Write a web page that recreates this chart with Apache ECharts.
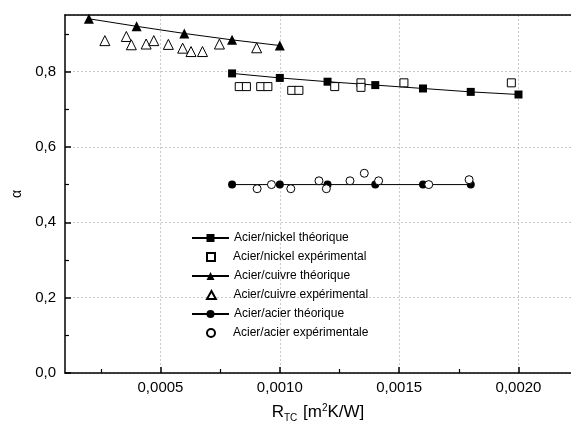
<!DOCTYPE html>
<html><head><meta charset="utf-8">
<script src="https://cdn.jsdelivr.net/npm/echarts@6/dist/echarts.min.js"></script>
<style>html,body{margin:0;padding:0;background:#fff}#c{width:571px;height:423px}</style>
</head><body><div id="c"></div>
<script>
// ---- data ----
const nickelTheoX = [0.0008, 0.0010, 0.0012, 0.0014, 0.0016, 0.0018, 0.0020];
const nickelTheoY = [0.795, 0.783, 0.773, 0.764, 0.755, 0.746, 0.739];
const nickelExpX = [0.00083, 0.00086, 0.00092, 0.00095, 0.00105, 0.00108, 0.00123, 0.00134, 0.00134, 0.00152, 0.00197];
const nickelExpY = [0.760, 0.760, 0.760, 0.760, 0.750, 0.750, 0.760, 0.770, 0.758, 0.770, 0.770];
const cuivreTheoX = [0.0002, 0.0004, 0.0006, 0.0008, 0.0010];
const cuivreTheoY = [0.940, 0.920, 0.901, 0.884, 0.869];
const cuivreExpX = [0.000267, 0.000357, 0.000378, 0.00044, 0.000472, 0.000533, 0.000593, 0.000628, 0.000676, 0.000747, 0.000903];
const cuivreExpY = [0.882, 0.893, 0.871, 0.873, 0.882, 0.872, 0.862, 0.853, 0.853, 0.873, 0.863];
const acierTheoX = [0.0008, 0.0010, 0.0012, 0.0014, 0.0016, 0.0018];
const acierTheoY = [0.5, 0.5, 0.5, 0.5, 0.5, 0.5];
const acierExpX = [0.000905, 0.000965, 0.001046, 0.001164, 0.001195, 0.001294, 0.001354, 0.001414, 0.001624, 0.001793];
const acierExpY = [0.489, 0.500, 0.489, 0.510, 0.489, 0.510, 0.530, 0.510, 0.500, 0.513];
const seriesNames = ['Acier/nickel théorique', 'Acier/nickel expérimental', 'Acier/cuivre théorique',
  'Acier/cuivre expérimental', 'Acier/acier théorique', 'Acier/acier expérimentale'];
const xMinorTicks = [0.00025, 0.00075, 0.00125, 0.00175];
const yMinorTicks = [0.1, 0.3, 0.5, 0.7, 0.9];

// ---- chart ----
const FONT = 'Liberation Sans, Arial, sans-serif';
const zip = (xs, ys) => xs.map((x, i) => [x, ys[i]]);
const X_MIN = 0.0001, X_MAX = 0.00222, Y_MIN = 0, Y_MAX = 0.95;
const gridPos = {left: 65, top: 15, right: 0, bottom: 50, outerBoundsMode: 'none', containLabel: false};
const black = '#000';
const SQUARE = 'path://M0,0L10,0L10,10L0,10Z';
const TRIANGLE = 'path://M5,0L10,9L0,9Z';

function theo(name, xs, ys, symbol, size) {
  return {name, type: 'line', data: zip(xs, ys), symbol, symbolSize: size, showSymbol: true,
    lineStyle: {color: black, width: 1}, itemStyle: {color: black}, z: 3};
}
function expe(name, xs, ys, symbol, size) {
  return {name, type: 'scatter', data: zip(xs, ys), symbol, symbolSize: size,
    itemStyle: {color: '#fff', borderColor: black, borderWidth: 1, opacity: 1}, z: 4};
}

// one legend per row so each row can have its own icon geometry
const rowCenters = [239, 258, 277, 296, 315, 334];
const legendIcons = [null, SQUARE, null, TRIANGLE, null, 'circle'];
const legends = seriesNames.map((name, i) => {
  const isLine = i % 2 === 0;
  return {
    orient: 'vertical', selectedMode: false, padding: 0,
    left: isLine ? 191 : 206, top: rowCenters[i] - 7,
    itemWidth: isLine ? 37 : 34, itemHeight: isLine ? 10 : 8,
    textStyle: {fontSize: 12, fontFamily: FONT, color: black},
    data: [legendIcons[i] ? {name, icon: legendIcons[i]} : name]
  };
});

const chart = echarts.init(document.getElementById('c'), null, {renderer: 'canvas'});
chart.setOption({
  animation: false,
  backgroundColor: '#fff',
  grid: [Object.assign({}, gridPos), Object.assign({}, gridPos)],
  legend: legends,
  xAxis: [
    {
      type: 'value', gridIndex: 0, position: 'bottom', min: X_MIN, max: X_MAX, splitNumber: 4,
      axisLine: {lineStyle: {color: black, width: 1.5}},
      axisTick: {inside: true, length: 6, lineStyle: {color: black, width: 1.5}},
      axisLabel: {showMinLabel: false, showMaxLabel: false, color: black, fontSize: 15, fontFamily: FONT, margin: 7,
        formatter: v => v.toFixed(4).replace('.', ',')},
      splitLine: {show: true, showMinLine: false, showMaxLine: false, lineStyle: {color: '#c8c8c8', type: [2, 2], width: 1}},
      name: '{r|R}{s|TC}{r| [m}{p|2}{r|K/W]}', nameLocation: 'middle', nameGap: 29,
      nameTextStyle: {
        color: black, fontFamily: FONT,
        rich: {
          r: {fontSize: 17, fontFamily: FONT, color: black},
          s: {fontSize: 10, fontFamily: FONT, color: black, padding: [11, 1, 0, 0]},
          p: {fontSize: 10, fontFamily: FONT, color: black, padding: [0, 0, 9, 0]}
        }
      }
    },
    {
      type: 'value', gridIndex: 0, position: 'top', min: X_MIN, max: X_MAX,
      axisLine: {show: true, lineStyle: {color: black, width: 1.5}},
      axisTick: {show: false}, axisLabel: {show: false}, splitLine: {show: false}
    },
    {
      type: 'value', gridIndex: 1, position: 'bottom', min: X_MIN, max: X_MAX,
      axisLine: {show: false},
      axisTick: {show: true, inside: true, length: 4, customValues: xMinorTicks, lineStyle: {color: black, width: 1.2}},
      axisLabel: {show: false}, splitLine: {show: false}
    }
  ],
  yAxis: [
    {
      type: 'value', gridIndex: 0, position: 'left', min: Y_MIN, max: Y_MAX, interval: 0.2,
      axisLine: {show: true, lineStyle: {color: black, width: 1.5}},
      axisTick: {show: true, inside: true, length: 6, lineStyle: {color: black, width: 1.5}},
      axisLabel: {showMaxLabel: false, color: black, fontSize: 15, fontFamily: FONT, margin: 9,
        formatter: v => v.toFixed(1).replace('.', ',')},
      splitLine: {show: true, lineStyle: {color: '#c8c8c8', type: [2, 2], width: 1}},
      name: 'α', nameLocation: 'middle', nameGap: 41, nameRotate: 90,
      nameTextStyle: {color: black, fontSize: 14, fontFamily: FONT}
    },
    {
      type: 'value', gridIndex: 1, position: 'left', min: Y_MIN, max: Y_MAX,
      axisLine: {show: false},
      axisTick: {show: true, inside: true, length: 4, customValues: yMinorTicks, lineStyle: {color: black, width: 1.2}},
      axisLabel: {show: false}, splitLine: {show: false}
    }
  ],
  series: [
    theo(seriesNames[0], nickelTheoX, nickelTheoY, 'rect', 8),
    expe(seriesNames[1], nickelExpX, nickelExpY, 'rect', 8),
    theo(seriesNames[2], cuivreTheoX, cuivreTheoY, 'triangle', 10),
    expe(seriesNames[3], cuivreExpX, cuivreExpY, 'triangle', 10),
    theo(seriesNames[4], acierTheoX, acierTheoY, 'circle', 8),
    expe(seriesNames[5], acierExpX, acierExpY, 'circle', 8)
  ]
});
</script>
</body></html>
